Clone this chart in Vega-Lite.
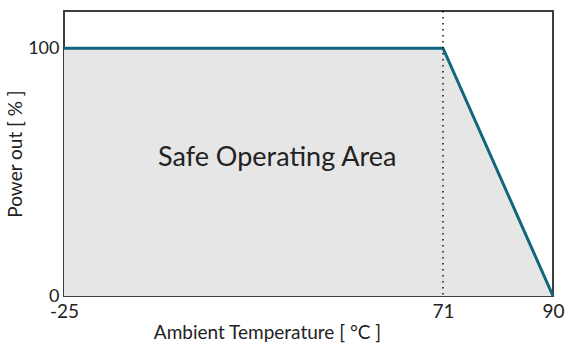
{
  "$schema": "https://vega.github.io/schema/vega-lite/v6.json",
  "width": 489,
  "height": 285,
  "autosize": {"type": "none"},
  "padding": {"left": 64, "top": 11, "right": 15, "bottom": 47},
  "background": "white",
  "title": {
    "text": "Temperature Derating Curve",
    "fontSize": 20,
    "font": "Lato",
    "fontWeight": "normal",
    "color": "#222222",
    "baseline": "alphabetic",
    "offset": 12,
    "anchor": "middle"
  },
  "config": {
    "view": {"stroke": "#3d3d3d", "strokeWidth": 2},
    "font": "Lato"
  },
  "datasets": {
    "curve": [
      {"temp": -25, "power": 100},
      {"temp": 71, "power": 100},
      {"temp": 90, "power": 0}
    ],
    "knee": [{"temp": 71}],
    "label": [{"temp": 29, "power": 55.7, "text": "Safe Operating Area"}]
  },
  "layer": [
    {
      "data": {"name": "curve"},
      "mark": {"type": "area", "color": "#e6e6e6"},
      "encoding": {
        "x": {
          "field": "temp",
          "type": "quantitative",
          "scale": {"domain": [-25, 71, 90], "range": [0, 379, 489], "nice": false, "zero": false},
          "axis": {
            "values": [-25, 71, 90],
            "labelExpr": "'' + datum.value",
            "title": "Ambient Temperature [ °C ]",
            "grid": false,
            "ticks": false,
            "domain": false,
            "labelFontSize": 19,
            "labelColor": "#222222",
            "labelPadding": 6,
            "labelOverlap": false,
            "labelFlush": false,
            "titleFontSize": 19,
            "titleFontWeight": "normal",
            "titleColor": "#222222",
            "titleX": 203,
            "titleY": 42,
            "titleBaseline": "alphabetic",
            "titleAlign": "center"
          }
        },
        "y": {
          "field": "power",
          "type": "quantitative",
          "scale": {"domain": [0, 115], "nice": false, "zero": false},
          "axis": {
            "values": [0, 100],
            "title": "Power out [ % ]",
            "grid": false,
            "ticks": false,
            "domain": false,
            "labelFontSize": 18,
            "labelColor": "#222222",
            "labelPadding": 5,
            "labelOverlap": false,
            "labelFlush": false,
            "titleFontSize": 19,
            "titleFontWeight": "normal",
            "titleColor": "#222222",
            "titlePadding": 2
          }
        }
      }
    },
    {
      "data": {"name": "curve"},
      "mark": {"type": "line", "color": "#10657f", "strokeWidth": 3},
      "encoding": {
        "x": {"field": "temp", "type": "quantitative"},
        "y": {"field": "power", "type": "quantitative"}
      }
    },
    {
      "data": {"name": "knee"},
      "mark": {"type": "rule", "color": "#111111", "strokeWidth": 1.5, "strokeDash": [1.5, 4.5]},
      "encoding": {
        "x": {"field": "temp", "type": "quantitative"}
      }
    },
    {
      "data": {"name": "label"},
      "mark": {"type": "text", "fontSize": 27, "color": "#222222", "align": "center", "baseline": "middle"},
      "encoding": {
        "x": {"field": "temp", "type": "quantitative"},
        "y": {"field": "power", "type": "quantitative"},
        "text": {"field": "text"}
      }
    }
  ]
}
